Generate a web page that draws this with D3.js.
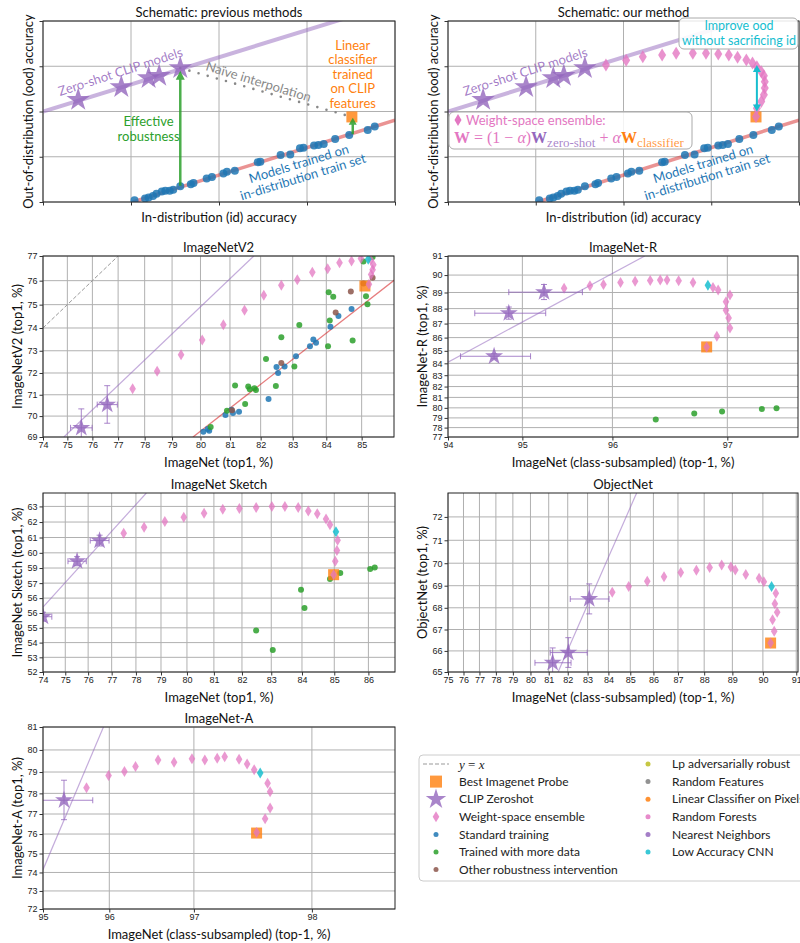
<!DOCTYPE html>
<html>
<head>
<meta charset="utf-8">
<script src="https://cdn.jsdelivr.net/npm/d3@7"></script>
<style>
  body { margin: 0; background: #fff; }
  svg { display: block; font-family: Lato, "DejaVu Sans", sans-serif; }
  .tick text { font-family: "Liberation Sans", Arial, sans-serif; font-size: 9px; fill: #222; }
  .tick line { stroke: #333; }
</style>
</head>
<body>
<script>
// ---------- schematic data (arbitrary units, 0..4) ----------
const schStars = [[0.40, 2.26], [0.89, 2.54], [1.20, 2.74], [1.32, 2.79], [1.56, 2.96]];
const schIdModels = [[1.04, 0.04], [1.16, 0.08], [1.20, 0.10], [1.25, 0.13], [1.29, 0.18], [1.35, 0.23],
  [1.39, 0.25], [1.44, 0.25], [1.48, 0.27], [1.56, 0.35], [1.68, 0.39], [1.71, 0.42], [1.86, 0.52],
  [1.92, 0.55], [2.05, 0.63], [2.09, 0.67], [2.18, 0.69], [2.44, 0.88], [2.47, 0.89], [2.70, 1.04],
  [2.81, 1.05], [2.92, 1.19], [2.96, 1.20], [3.08, 1.25], [3.13, 1.26], [3.19, 1.28], [3.32, 1.39],
  [3.48, 1.48], [3.69, 1.59], [3.77, 1.67]];
const schEnsemble = [[1.80, 3.03], [2.03, 3.13], [2.22, 3.21], [2.44, 3.25], [2.60, 3.29], [2.79, 3.29],
  [2.94, 3.29], [3.08, 3.27], [3.20, 3.25], [3.30, 3.20], [3.40, 3.14], [3.47, 3.07], [3.52, 2.99],
  [3.57, 2.88], [3.60, 2.79], [3.61, 2.66], [3.61, 2.52], [3.60, 2.37], [3.57, 2.22], [3.52, 2.07], [3.51, 1.89]];
const schProbe = [3.51, 1.88];
const schClipFit = [[0, 2.0], [4, 4.4]];
const schIdFit = [[1.02, 0], [4.0, 1.81]];

// ---------- ImageNetV2 ----------
const v2Stars = [[75.56, 69.44], [76.58, 70.54]];
const v2StarErr = [[0.43, 0.9], [0.39, 0.88]];
const v2Ensemble = [[77.55, 71.28], [78.46, 72.08], [79.32, 72.82], [80.06, 73.47], [80.78, 74.14],
  [81.48, 74.76], [82.10, 75.39], [82.65, 75.81], [83.14, 76.04], [83.59, 76.34], [84.04, 76.49],
  [84.38, 76.73], [84.72, 76.80], [84.98, 76.90], [85.25, 76.85], [85.32, 76.65], [85.30, 76.45],
  [85.26, 76.25], [85.20, 75.85]];
const v2Best = [85.09, 75.78];
const v2Optimal = [85.18, 76.87];
const v2Standard = [[80.10, 69.25], [80.25, 69.38], [80.30, 69.30], [80.85, 70.05], [81.05, 70.30],
  [81.10, 70.15], [81.30, 70.20], [82.25, 70.80], [82.50, 72.27], [82.55, 72.00], [82.75, 72.30],
  [83.10, 72.75], [83.52, 73.20], [83.62, 73.50], [83.70, 73.35], [84.12, 74.05], [84.35, 74.52], [84.72, 74.82]];
const v2MoreData = [[80.35, 69.48], [80.90, 70.25], [81.17, 71.43], [81.50, 70.57], [81.60, 71.38],
  [81.65, 71.25], [81.80, 71.30], [81.85, 71.22], [82.17, 72.63], [82.48, 71.40], [82.65, 73.60],
  [83.05, 72.30], [83.20, 74.13], [84.07, 75.52], [84.20, 75.33], [84.10, 74.32], [84.05, 73.20],
  [84.75, 73.45], [85.05, 76.78], [85.12, 75.35], [85.16, 75.02], [85.30, 76.96]];
const v2Other = [[81.07, 70.28], [82.65, 72.45], [84.27, 74.67], [84.70, 75.55], [85.05, 75.88], [85.30, 76.12]];
const v2ClipFit = [[74.86, 69], [81.78, 77]];
const v2IdFit = [[79.74, 69], [86.04, 76.22]];
const v2Diag = [[74, 74], [77, 77]];

// ---------- ImageNet-R ----------
const rStars = [[94.64, 84.57], [94.83, 87.70], [95.26, 89.02]];
const rStarErr = [[0.46, 0.2], [0.45, 0.4], [0.43, 0.45]];
const rEnsemble = [[95.49, 89.25], [95.77, 89.40], [95.91, 89.47], [96.08, 89.58], [96.22, 89.66],
  [96.36, 89.70], [96.45, 89.72], [96.51, 89.72], [96.61, 89.68], [96.73, 89.58], [96.89, 89.30],
  [96.93, 89.15], [97.02, 88.85], [96.99, 88.43], [96.99, 87.90], [97.01, 87.38], [97.02, 86.70],
  [96.92, 86.10], [96.84, 85.30]];
const rBest = [96.84, 85.30];
const rOptimal = [96.85, 89.43];
const rMoreData = [[96.41, 78.85], [96.74, 79.45], [96.96, 79.65], [97.25, 79.90], [97.35, 79.95]];
const rClipFit = [[94.0, 84.1], [96.31, 91]];

// ---------- ImageNet Sketch ----------
const sStars = [[74.0, 55.75], [75.52, 59.45], [76.49, 60.8]];
const sStarErr = [[0.4, 0.3], [0.4, 0.3], [0.4, 0.35]];
const sEnsemble = [[77.50, 61.27], [78.33, 61.67], [79.15, 62.04], [79.88, 62.31], [80.64, 62.56],
  [81.32, 62.82], [81.91, 62.87], [82.49, 62.93], [83.02, 63.00], [83.45, 63.00], [83.88, 62.93],
  [84.20, 62.71], [84.48, 62.53], [84.75, 62.20], [84.87, 61.82], [85.10, 60.82], [85.08, 60.16],
  [85.03, 59.44], [84.98, 58.56]];
const sBest = [84.98, 58.56];
const sOptimal = [85.05, 61.38];
const sMoreData = [[84.87, 58.27], [85.18, 58.67], [83.97, 57.56], [84.08, 56.33], [82.49, 54.82],
  [83.05, 53.49], [86.05, 58.93], [86.18, 59.04]];
const sClipFit = [[74.0, 56.4], [78.42, 63.85]];
const sYTicks = [52, 53, 54, 55, 56, 57, 58, 59, 60, 61, 62, 63];
const sYLabels = ["52", "53", "54", "55", "56", "56", "57", "59", "60", "61", "62", "63"];

// ---------- ObjectNet ----------
const oStars = [[81.21, 65.44], [82.03, 65.92], [83.08, 68.40]];
const oStarErr = [[0.96, 0.7], [0.95, 0.7], [0.95, 0.68]];
const oEnsemble = [[84.18, 68.70], [84.93, 68.96], [85.74, 69.20], [86.44, 69.40], [87.11, 69.59],
  [87.71, 69.69], [88.20, 69.81], [88.63, 69.92], [88.95, 69.83], [89.10, 69.70], [89.45, 69.50],
  [89.88, 69.33], [90.03, 69.18], [90.40, 68.66], [90.37, 68.18], [90.44, 67.80], [90.30, 67.45],
  [90.35, 66.92], [90.24, 66.37]];
const oBest = [90.24, 66.37];
const oOptimal = [90.27, 68.96];
const oClipFit = [[81.5, 65], [85.28, 73]];

// ---------- ImageNet-A ----------
const aStars = [[95.34, 77.67]];
const aStarErr = [[0.43, 0.95]];
const aEnsemble = [[95.68, 78.27], [95.99, 78.84], [96.20, 79.03], [96.34, 79.25], [96.61, 79.55],
  [96.79, 79.45], [96.98, 79.60], [97.11, 79.55], [97.23, 79.63], [97.30, 79.70], [97.43, 79.58],
  [97.50, 79.37], [97.56, 79.10], [97.67, 78.48], [97.69, 78.08], [97.69, 77.30], [97.65, 76.77],
  [97.58, 76.08]];
const aBest = [97.58, 76.05];
const aOptimal = [97.61, 78.95];
const aClipFit = [[95, 74.15], [95.92, 81]];

// ---------- legend ----------
const legendLeft = ["y = x", "Best Imagenet Probe", "CLIP Zeroshot", "Weight-space ensemble",
  "Standard training", "Trained with more data", "Other robustness intervention"];
const legendRight = ["Lp adversarially robust", "Random Features", "Linear Classifier on Pixels",
  "Random Forests", "Nearest Neighbors", "Low Accuracy CNN"];

const C = {
  blue: "#1f77b4", orange: "#ff7f0e", green: "#2ca02c", red: "#d62728", purple: "#9467bd",
  brown: "#8c564b", pink: "#e377c2", gray: "#7f7f7f", olive: "#bcbd22", cyan: "#17becf"
};
const legendRightColors = [C.olive, C.gray, C.orange, C.pink, C.purple, C.cyan];

const logit = v => Math.log(v / (100 - v));
const ident = v => v;
const range = (a, b) => d3.range(a, b + 1);

const svg = d3.select("body").append("svg").attr("width", 800).attr("height", 943);

let clipN = 0;
function panel(o) {
  const t = o.logit ? logit : ident;
  const xs = d3.scaleLinear().domain(o.xdom.map(t)).range([o.left, o.left + o.w]);
  const ys = d3.scaleLinear().domain(o.ydom.map(t)).range([o.top + o.h, o.top]);
  const g = svg.append("g");

  g.append("g").selectAll("line").data(o.xticks).join("line")
    .attr("x1", d => xs(t(d))).attr("x2", d => xs(t(d)))
    .attr("y1", o.top).attr("y2", o.top + o.h)
    .attr("stroke", "#b0b0b0").attr("stroke-width", 1);
  g.append("g").selectAll("line").data(o.yticks).join("line")
    .attr("y1", d => ys(t(d))).attr("y2", d => ys(t(d)))
    .attr("x1", o.left).attr("x2", o.left + o.w)
    .attr("stroke", "#b0b0b0").attr("stroke-width", 1);

  const cid = "clip" + (++clipN);
  g.append("clipPath").attr("id", cid).append("rect")
    .attr("x", o.left).attr("y", o.top).attr("width", o.w).attr("height", o.h);
  const plot = g.append("g").attr("clip-path", `url(#${cid})`);

  g.append("rect").attr("x", o.left).attr("y", o.top).attr("width", o.w).attr("height", o.h)
    .attr("fill", "none").attr("stroke", "#222").attr("stroke-width", 1);

  g.append("g").attr("transform", `translate(0,${o.top + o.h})`)
    .call(d3.axisBottom(xs).tickValues(o.xticks.map(t))
      .tickFormat((d, i) => o.xlabels ? o.xlabels[i] : "")
      .tickSize(3.5).tickPadding(1.5))
    .call(a => a.select(".domain").remove());
  g.append("g").attr("transform", `translate(${o.left},0)`)
    .call(d3.axisLeft(ys).tickValues(o.yticks.map(t))
      .tickFormat((d, i) => o.ylabels ? o.ylabels[i] : "")
      .tickSize(3.5).tickPadding(2))
    .call(a => a.select(".domain").remove());

  g.append("text").attr("x", o.left + o.w / 2).attr("y", o.top - 4)
    .attr("text-anchor", "middle").attr("font-size", 13).attr("fill", "#111").text(o.title);
  g.append("text").attr("x", o.left + o.w / 2).attr("y", o.top + o.h + (o.xlabels ? 30 : 20))
    .attr("text-anchor", "middle").attr("font-size", 13).attr("fill", "#111").text(o.xlabel);
  const yl = o.xlabels ? o.left - 26 : o.left - 15;
  g.append("text").attr("transform", `translate(${yl},${o.top + o.h / 2}) rotate(-90)`)
    .attr("text-anchor", "middle").attr("dy", "0.35em").attr("font-size", 13).attr("fill", "#111")
    .text(o.ylabel);

  return { g, plot, x: v => xs(t(v)), y: v => ys(t(v)) };
}

// ---------- mark helpers ----------
function fitLine(p, pts, color, sw, op, dash) {
  p.plot.append("path").datum(pts)
    .attr("d", d3.line().x(d => p.x(d[0])).y(d => p.y(d[1])))
    .attr("fill", "none").attr("stroke", color).attr("stroke-width", sw)
    .attr("stroke-opacity", op).attr("stroke-dasharray", dash || null);
}
function dots(p, pts, color, r) {
  p.plot.append("g").selectAll("circle").data(pts).join("circle")
    .attr("cx", d => p.x(d[0])).attr("cy", d => p.y(d[1])).attr("r", r)
    .attr("fill", color).attr("fill-opacity", 0.85);
}
const diamondPath = (hw, hh) => `M0,${-hh}L${hw},0L0,${hh}L${-hw},0Z`;
function diamonds(p, pts, color, hw, hh, op) {
  p.plot.append("g").selectAll("path").data(pts).join("path")
    .attr("transform", d => `translate(${p.x(d[0])},${p.y(d[1])})`)
    .attr("d", diamondPath(hw, hh)).attr("fill", color).attr("fill-opacity", op || 0.75);
}
function square(p, pt, s) {
  p.plot.append("rect").attr("x", p.x(pt[0]) - s / 2).attr("y", p.y(pt[1]) - s / 2)
    .attr("width", s).attr("height", s).attr("fill", C.orange).attr("fill-opacity", 0.8);
}
function stars(p, pts, size, errs) {
  const gg = p.plot.append("g");
  if (errs) {
    pts.forEach((d, i) => {
      const [ex, ey] = errs[i];
      const cx = p.x(d[0]), cy = p.y(d[1]);
      const x0 = p.x(d[0] - ex), x1 = p.x(d[0] + ex), y0 = p.y(d[1] - ey), y1 = p.y(d[1] + ey);
      const path = `M${x0},${cy}H${x1}M${cx},${y0}V${y1}` +
        `M${x0},${cy - 3}V${cy + 3}M${x1},${cy - 3}V${cy + 3}` +
        `M${cx - 3},${y0}H${cx + 3}M${cx - 3},${y1}H${cx + 3}`;
      gg.append("path").attr("d", path).attr("stroke", C.purple).attr("stroke-opacity", 0.8)
        .attr("stroke-width", 1).attr("fill", "none");
    });
  }
  gg.selectAll(".star").data(pts).join("path").attr("class", "star")
    .attr("transform", d => `translate(${p.x(d[0])},${p.y(d[1])})`)
    .attr("d", d3.symbol(d3.symbolStar, size)())
    .attr("fill", C.purple).attr("fill-opacity", 0.8);
}
function arrowHead(g, x, y, dir, w, len, color) {
  // dir: -1 points up, +1 points down
  g.append("path").attr("d", `M${x},${y}L${x - w / 2},${y - dir * len}L${x + w / 2},${y - dir * len}Z`)
    .attr("fill", color);
}

// ---------- schematic panels ----------
const schOpts = {
  top: 21, w: 352, h: 181, xdom: [0, 4], ydom: [0, 4], xticks: range(0, 4), yticks: range(0, 4),
  xlabel: "In-distribution (id) accuracy", ylabel: "Out-of-distribution (ood) accuracy"
};
function schematicBase(p) {
  fitLine(p, schIdFit, C.red, 3.5, 0.5);
  fitLine(p, schClipFit, C.purple, 4, 0.5);
  dots(p, schIdModels, C.blue, 4);
}
function schematicText(p, dx) {
  p.g.append("text")
    .attr("transform", `translate(${p.x(0.88 + dx)},${p.y(2.88)}) rotate(-18)`)
    .attr("text-anchor", "middle").attr("dy", "0.35em").attr("font-size", 13)
    .attr("fill", C.purple).attr("fill-opacity", 0.85).text("Zero-shot CLIP models");
  const bt = p.g.append("g").attr("transform", `translate(${p.x(2.93 + dx)},${p.y(0.70)}) rotate(-17)`)
    .attr("font-size", 13).attr("fill", C.blue).attr("text-anchor", "middle");
  bt.append("text").attr("y", -7).attr("dy", "0.35em").text("Models trained on");
  bt.append("text").attr("y", 7).attr("dy", "0.35em").text("in-distribution train set");
}

const p1 = panel({ ...schOpts, left: 43, title: "Schematic: previous methods" });
schematicBase(p1);
p1.plot.append("path").datum([schStars[4], schProbe])
  .attr("d", d3.line().x(d => p1.x(d[0])).y(d => p1.y(d[1])))
  .attr("stroke", "#888").attr("stroke-width", 2.6).attr("stroke-linecap", "round")
  .attr("stroke-dasharray", "0 9.5").attr("fill", "none");
square(p1, schProbe, 11);
stars(p1, schStars, 170);
// effective robustness arrows
{
  const gx = p1.x(1.56), gy0 = p1.y(0.36), gy1 = p1.y(2.90);
  const ga = p1.g.append("g").attr("opacity", 0.85);
  ga.append("line").attr("x1", gx).attr("x2", gx).attr("y1", gy0).attr("y2", gy1 + 8)
    .attr("stroke", C.green).attr("stroke-width", 2.5);
  arrowHead(ga, gx, gy1, -1, 9, 9, C.green);
  const sx = p1.x(3.52), sy0 = p1.y(1.50), sy1 = p1.y(1.86);
  ga.append("line").attr("x1", sx).attr("x2", sx).attr("y1", sy0).attr("y2", sy1 + 6)
    .attr("stroke", C.green).attr("stroke-width", 2.5);
  arrowHead(ga, sx, sy1, -1, 8, 7, C.green);
}
schematicText(p1, 0);
p1.g.append("text")
  .attr("transform", `translate(${p1.x(2.45)},${p1.y(2.66)}) rotate(17)`)
  .attr("text-anchor", "middle").attr("dy", "0.35em").attr("font-size", 13)
  .attr("fill", "#888").text("Naïve interpolation");
p1.g.append("g").attr("font-size", 13).attr("fill", C.green).attr("text-anchor", "middle")
  .selectAll("text").data(["Effective", "robustness"]).join("text")
  .attr("x", p1.x(1.20)).attr("y", (d, i) => p1.y(1.77) + i * 15).attr("dy", "0.35em").text(d => d);
p1.g.append("g").attr("font-size", 13).attr("fill", C.orange).attr("text-anchor", "middle")
  .selectAll("text").data(["Linear", "classifier", "trained", "on CLIP", "features"]).join("text")
  .attr("x", p1.x(3.52)).attr("y", (d, i) => p1.y(3.47) + i * 14.5).attr("dy", "0.35em").text(d => d);

const p2 = panel({ ...schOpts, left: 448, w: 351, title: "Schematic: our method" });
schematicBase(p2);
square(p2, schProbe, 11);
stars(p2, schStars, 170);
diamonds(p2, schEnsemble, C.pink, 4, 6.5, 0.8);
{
  const cx = p2.x(3.52), y0 = p2.y(2.0), y1 = p2.y(3.03);
  const ca = p2.g.append("g");
  ca.append("line").attr("x1", cx).attr("x2", cx).attr("y1", y0 - 6).attr("y2", y1 + 6)
    .attr("stroke", C.cyan).attr("stroke-width", 2);
  arrowHead(ca, cx, y1, -1, 8, 7, C.cyan);
  arrowHead(ca, cx, y0, 1, 8, 7, C.cyan);
}
schematicText(p2, 0);
// annotation boxes
{
  const bg = p2.g.append("g");
  bg.append("rect").attr("x", 449).attr("y", 112).attr("width", 243).attr("height", 37).attr("rx", 5)
    .attr("fill", "#fff").attr("fill-opacity", 0.85).attr("stroke", "#aaa").attr("stroke-width", 1);
  bg.append("path").attr("transform", "translate(458,120)").attr("d", diamondPath(3.5, 6))
    .attr("fill", C.pink);
  bg.append("text").attr("x", 466).attr("y", 125).attr("font-size", 13).attr("fill", C.pink)
    .text("Weight-space ensemble:");
  const f = bg.append("text").attr("x", 454).attr("y", 143)
    .attr("font-family", "'Liberation Serif', 'DejaVu Serif', serif").attr("font-size", 16);
  f.append("tspan").attr("fill", C.pink).attr("font-weight", "bold").text("W");
  f.append("tspan").attr("fill", C.pink).text(" = (1 − ");
  f.append("tspan").attr("fill", C.pink).attr("font-style", "italic").text("α");
  f.append("tspan").attr("fill", C.pink).text(")");
  f.append("tspan").attr("fill", C.purple).attr("font-weight", "bold").text("W");
  f.append("tspan").attr("fill", C.purple).attr("fill-opacity", 0.8).attr("font-size", 13)
    .attr("dy", 4).text("zero-shot");
  f.append("tspan").attr("fill", C.pink).attr("dy", -4).text(" + ");
  f.append("tspan").attr("fill", C.pink).attr("font-style", "italic").text("α");
  f.append("tspan").attr("fill", C.orange).attr("font-weight", "bold").text("W");
  f.append("tspan").attr("fill", C.orange).attr("fill-opacity", 0.8).attr("font-size", 13)
    .attr("dy", 4).text("classifier");

  bg.append("rect").attr("x", 679).attr("y", 18).attr("width", 119).attr("height", 31).attr("rx", 5)
    .attr("fill", "#fff").attr("fill-opacity", 0.9).attr("stroke", "#aaa").attr("stroke-width", 1);
  bg.append("g").attr("font-size", 12.5).attr("fill", C.cyan).attr("text-anchor", "middle")
    .selectAll("text").data(["Improve ood", "without sacrificing id"]).join("text")
    .attr("x", 739).attr("y", (d, i) => 26 + i * 15).attr("dy", "0.35em").text(d => d);
}

// ---------- benchmark panels ----------
function benchmark(o, d) {
  const p = panel({ ...o, logit: true, xlabels: o.xticks.map(String), ylabels: o.ylabels || o.yticks.map(String) });
  if (d.diag) fitLine(p, d.diag, "#999", 1, 1, "4 2");
  if (d.idFit) fitLine(p, d.idFit, C.red, 1.3, 0.6);
  fitLine(p, d.clipFit, C.purple, 1.2, 0.55);
  if (d.standard) dots(p, d.standard, C.blue, 3);
  if (d.more) dots(p, d.more, C.green, 3);
  if (d.other) dots(p, d.other, C.brown, 3);
  square(p, d.best, 11);
  diamonds(p, d.ens, C.pink, 3.3, 5.5);
  diamonds(p, [d.opt], C.cyan, 3.3, 5.5, 0.85);
  stars(p, d.stars, 100, d.err);
  return p;
}

benchmark({ left: 43, top: 256, w: 351, h: 181, xdom: [74, 85.87], ydom: [69, 77],
  xticks: range(74, 85), yticks: range(69, 77), title: "ImageNetV2",
  xlabel: "ImageNet (top1, %)", ylabel: "ImageNetV2 (top1, %)" },
  { diag: v2Diag, idFit: v2IdFit, clipFit: v2ClipFit, standard: v2Standard, more: v2MoreData,
    other: v2Other, best: v2Best, ens: v2Ensemble, opt: v2Optimal, stars: v2Stars, err: v2StarErr });

benchmark({ left: 448, top: 256, w: 350, h: 181, xdom: [94, 97.49], ydom: [77, 91],
  xticks: range(94, 97), yticks: range(77, 91), title: "ImageNet-R",
  xlabel: "ImageNet (class-subsampled) (top-1, %)", ylabel: "ImageNet-R (top1, %)" },
  { clipFit: rClipFit, more: rMoreData, best: rBest, ens: rEnsemble, opt: rOptimal,
    stars: rStars, err: rStarErr });

benchmark({ left: 43, top: 493, w: 352, h: 179, xdom: [74, 86.74], ydom: [52, 63.85],
  xticks: range(74, 86), yticks: sYTicks, ylabels: sYLabels, title: "ImageNet Sketch",
  xlabel: "ImageNet (top1, %)", ylabel: "ImageNet Sketch (top1, %)" },
  { clipFit: sClipFit, more: sMoreData, best: sBest, ens: sEnsemble, opt: sOptimal,
    stars: sStars, err: sStarErr });

benchmark({ left: 448, top: 493, w: 350, h: 179, xdom: [75, 91.05], ydom: [65, 73],
  xticks: range(75, 91), yticks: range(65, 72), title: "ObjectNet",
  xlabel: "ImageNet (class-subsampled) (top-1, %)", ylabel: "ObjectNet (top1, %)" },
  { clipFit: oClipFit, best: oBest, ens: oEnsemble, opt: oOptimal, stars: oStars, err: oStarErr });

benchmark({ left: 43, top: 727, w: 352, h: 182, xdom: [95, 98.5], ydom: [72, 81],
  xticks: range(95, 98), yticks: range(72, 81), title: "ImageNet-A",
  xlabel: "ImageNet (class-subsampled) (top-1, %)", ylabel: "ImageNet-A (top1, %)" },
  { clipFit: aClipFit, best: aBest, ens: aEnsemble, opt: aOptimal, stars: aStars, err: aStarErr });

// ---------- legend ----------
{
  const lg = svg.append("g");
  lg.append("rect").attr("x", 419).attr("y", 755).attr("width", 400).attr("height", 126).attr("rx", 4)
    .attr("fill", "#fff").attr("stroke", "#ccc");
  const rowY = i => 764 + i * 17.6;
  const mx = 436, tx = 459;
  lg.append("line").attr("x1", 423).attr("x2", 449).attr("y1", rowY(0)).attr("y2", rowY(0))
    .attr("stroke", "#999").attr("stroke-dasharray", "4 2");
  lg.append("rect").attr("x", mx - 6).attr("y", rowY(1) - 6).attr("width", 12).attr("height", 12)
    .attr("fill", C.orange).attr("fill-opacity", 0.8);
  lg.append("path").attr("transform", `translate(${mx},${rowY(2)})`)
    .attr("d", d3.symbol(d3.symbolStar, 130)()).attr("fill", C.purple).attr("fill-opacity", 0.8);
  lg.append("path").attr("transform", `translate(${mx},${rowY(3)})`)
    .attr("d", diamondPath(3.3, 5.5)).attr("fill", C.pink).attr("fill-opacity", 0.8);
  [C.blue, C.green, C.brown].forEach((c, i) =>
    lg.append("circle").attr("cx", mx).attr("cy", rowY(4 + i)).attr("r", 2.5).attr("fill", c).attr("fill-opacity", 0.85));
  const yx = lg.append("text").attr("x", tx).attr("y", rowY(0)).attr("dy", "0.35em")
    .attr("font-family", "'Liberation Serif', 'DejaVu Serif', serif").attr("font-size", 13).attr("fill", "#222");
  yx.append("tspan").attr("font-style", "italic").text("y");
  yx.append("tspan").text(" = ");
  yx.append("tspan").attr("font-style", "italic").text("x");
  lg.append("g").attr("font-size", 12).attr("fill", "#222").selectAll("text")
    .data(legendLeft.slice(1)).join("text")
    .attr("x", tx).attr("y", (d, i) => rowY(i + 1)).attr("dy", "0.35em").text(d => d);
  lg.append("g").selectAll("circle").data(legendRightColors).join("circle")
    .attr("cx", 648).attr("cy", (d, i) => rowY(i)).attr("r", 2.5).attr("fill", d => d).attr("fill-opacity", 0.85);
  lg.append("g").attr("font-size", 12).attr("fill", "#222").selectAll("text")
    .data(legendRight).join("text")
    .attr("x", 672).attr("y", (d, i) => rowY(i)).attr("dy", "0.35em").text(d => d);
}
</script>
</body>
</html>
